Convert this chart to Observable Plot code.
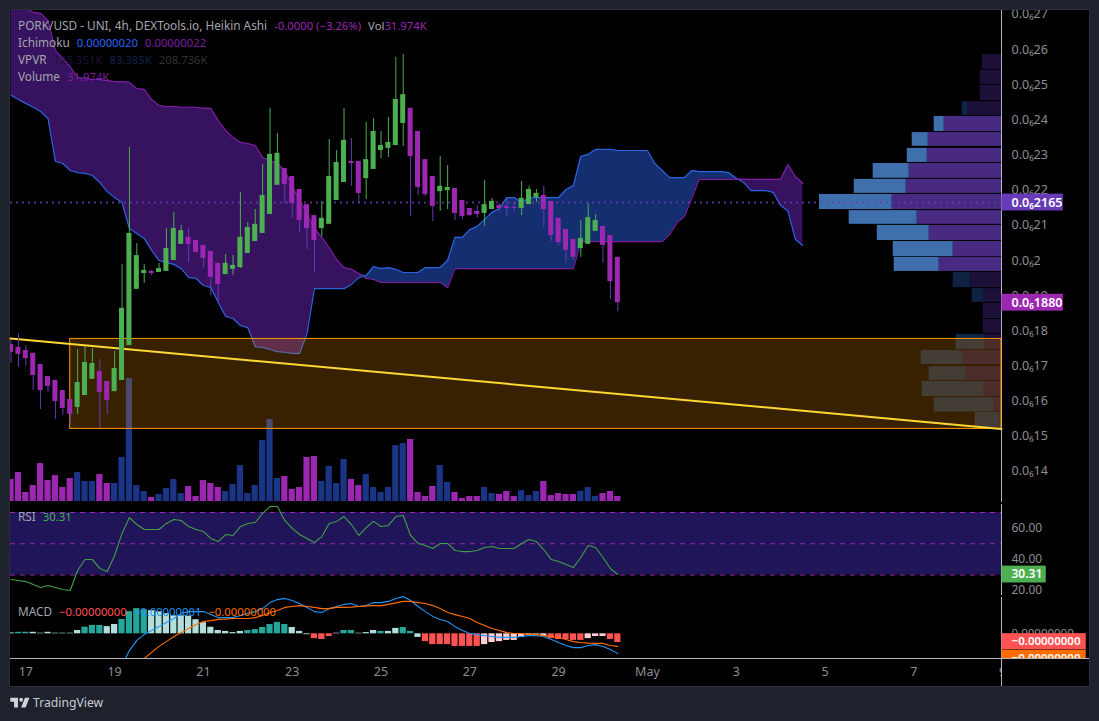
<!DOCTYPE html>
<html><head><meta charset="utf-8">
<script src="https://cdn.jsdelivr.net/npm/d3@7"></script>
<script src="https://cdn.jsdelivr.net/npm/@observablehq/plot@0.6"></script>
<style>
html,body{margin:0;padding:0;background:#1e222d;overflow:hidden}
#page{position:relative;width:1099px;height:721px;background:#1e222d;font-family:"Noto Sans",sans-serif;overflow:hidden}
#frame{position:absolute;left:9px;top:9px;width:1079px;height:676px;background:#000;border:1px solid #2a2e39}
#page svg.lay{position:absolute}
.leg{position:absolute;left:18px;font-size:11.8px;line-height:16px;color:#a3a6ae;white-space:nowrap}
.leg span{font-size:11.3px;margin-left:7px}
.leg span.tight{margin-left:0}
.vl{position:absolute;background:#b2b5be}
#brand{position:absolute;left:33px;top:693px;font-size:12.2px;line-height:20px;color:#c9cbd1}
</style></head><body><div id="page"><div id="frame"></div></div>
<script>
// bar number 0 = 17 April 00:00, 6 bars a day (4h); prices in units of 1e-7
const openPx=[17.61,17.53,17.44,17.36,17.04,16.70,16.59,16.30,16.05,15.82,16.16,16.62,16.84,16.56,16.27,16.59,17.58,19.18,19.63,19.69,19.66,19.69,20.00,20.46,20.66,20.57,20.43,20.26,19.92,19.60,19.75,19.80,20.20,20.54,20.77,21.31,22.14,22.62,22.39,22.02,21.59,21.28,20.91,21.03,21.71,22.22,22.82,22.82,22.33,22.59,23.13,23.19,23.27,23.90,24.33,23.67,22.87,22.39,21.96,21.99,22.05,21.71,21.48,21.40,21.34,21.45,21.57,21.54,21.51,21.48,21.59,21.79,21.85,21.68,21.20,20.88,20.60,20.34,20.46,20.83,20.97,20.71,20.09];
const closePx=[17.39,17.33,17.21,16.73,16.30,16.42,15.99,15.79,15.62,16.53,17.10,17.07,16.25,16.02,16.93,18.64,20.77,20.14,19.72,19.63,19.77,20.34,20.91,20.85,20.46,20.23,20.06,19.52,19.32,19.92,19.86,20.66,20.94,21.03,21.85,23.02,23.05,22.16,21.62,21.14,20.91,20.57,21.20,22.39,22.79,23.42,22.76,21.91,22.87,23.67,23.27,23.36,24.58,24.72,22.96,22.08,21.88,21.54,22.11,22.08,21.34,21.25,21.28,21.31,21.59,21.68,21.48,21.48,21.48,21.77,22.02,21.91,21.45,20.71,20.51,20.29,20.09,20.63,21.22,21.14,20.43,19.40,18.80];
const highPx=[17.73,17.92,17.58,17.36,17.04,16.70,16.59,16.30,16.05,17.47,17.55,17.50,17.18,16.56,17.41,19.89,23.22,20.48,19.89,19.72,19.92,20.91,21.37,21.00,20.91,20.57,20.43,20.26,19.92,20.17,20.14,21.94,21.08,21.45,22.73,24.33,23.61,22.62,22.39,22.02,21.59,21.28,21.68,23.44,23.13,24.33,23.47,22.82,23.93,24.04,23.67,24.07,25.78,25.86,24.33,23.67,22.87,22.39,22.96,22.70,22.05,21.71,21.48,21.57,22.28,21.77,21.62,21.77,21.68,22.25,22.11,22.02,22.11,21.68,21.20,20.88,20.60,21.14,21.62,21.31,20.97,20.71,20.09];
const lowPx=[17.07,16.96,16.99,16.30,15.76,16.25,15.48,15.59,15.34,15.62,16.16,16.62,15.22,15.62,16.27,16.59,17.58,19.18,19.35,19.58,19.66,19.69,20.00,20.46,19.94,20.20,19.77,19.00,18.81,19.60,19.58,19.77,20.20,20.54,20.77,21.31,22.14,21.60,21.22,20.80,20.31,19.66,20.68,21.03,21.71,22.22,22.11,21.60,21.74,22.59,22.90,22.93,23.27,23.24,21.25,21.85,21.82,21.11,21.40,21.45,21.14,21.17,21.25,21.20,20.97,21.45,21.37,21.22,21.40,21.28,21.59,21.65,20.94,20.54,20.40,19.92,20.00,20.09,20.46,20.83,19.92,18.89,18.55];
// Ichimoku leading spans, bars -2 to 105
const spanA=[24.70,24.58,24.47,24.36,24.24,24.04,22.82,22.76,22.56,22.50,22.48,22.42,22.22,21.96,21.79,21.65,20.91,20.77,20.63,20.29,20.00,19.94,19.89,19.77,19.52,19.49,19.29,19.23,18.81,18.41,18.35,18.15,18.09,17.55,17.53,17.47,17.41,17.39,17.36,17.36,17.92,19.20,19.20,19.20,19.20,19.20,19.32,19.52,19.57,19.83,19.77,19.80,19.75,19.66,19.66,19.66,19.80,19.80,19.80,20.00,20.66,20.66,20.88,20.97,21.17,21.37,21.48,21.79,21.79,21.65,21.79,21.79,21.79,21.79,21.79,22.02,22.13,22.96,23.02,23.16,23.16,23.16,23.13,23.13,23.13,23.13,23.13,22.76,22.56,22.36,22.36,22.36,22.56,22.53,22.53,22.53,22.53,22.50,22.34,22.22,21.99,21.99,21.99,21.94,21.57,21.40,20.60,20.43];
const spanB=[27.54,27.40,27.17,27.06,27.03,26.83,25.98,25.75,25.52,25.21,25.18,25.15,25.15,25.12,25.09,25.09,25.07,24.89,24.87,24.58,24.41,24.38,24.38,24.36,24.36,24.36,24.33,24.33,23.98,23.70,23.50,23.36,23.33,23.27,22.93,22.85,22.76,22.56,22.11,21.71,21.34,20.91,20.66,20.37,20.03,19.80,19.75,19.63,19.49,19.46,19.38,19.38,19.38,19.38,19.38,19.38,19.38,19.38,19.38,19.23,19.77,19.77,19.77,19.77,19.77,19.77,19.77,19.77,19.77,19.77,19.77,19.77,19.77,19.77,19.77,19.77,19.77,20.54,20.54,20.54,20.54,20.54,20.54,20.54,20.54,20.54,20.54,20.54,20.54,20.74,21.08,21.25,21.77,22.31,22.31,22.31,22.31,22.31,22.31,22.31,22.31,22.31,22.31,22.31,22.31,22.73,22.39,22.19];
// volume in thousands; p = purple, b = blue
const volumeK=[141,186,58,102,243,134,166,90,147,186,128,128,173,115,115,282,787,102,64,26,45,83,141,51,96,32,134,115,90,64,109,230,51,102,390,525,147,160,77,90,282,288,128,224,115,269,141,102,173,90,58,90,358,371,397,58,32,96,230,122,58,19,32,32,90,51,45,64,32,70,38,64,128,38,51,45,45,64,90,32,51,64,31.974];
const volumeKind="pppppppppbbbppbbbbbpbbbbpppppbbbbbbbbpppppbbbbppbbbbbbppppbbppppbbpppbbbpppppbbbppp";
// visible-range volume profile, in thousands
const vpTop=[25.86,25.41,24.98,24.52,24.10,23.64,23.19,22.76,22.31,21.88,21.42,21.00,20.54,20.09,19.66,19.20,18.78,18.32,17.90,17.44,16.98,16.56,16.10,15.68];
const vpBottom=[25.43,25.01,24.55,24.13,23.67,23.25,22.79,22.34,21.91,21.45,21.03,20.57,20.11,19.69,19.23,18.81,18.35,17.92,17.47,17.04,16.59,16.13,15.69,15.25];
const vpUp=[22.1,24.4,24.4,38.2,65.7,84.0,85.2,105.9,109.3,125.4,96.7,82.9,55.4,71.5,35.9,19.8,21.0,21.0,18.7,43.9,40.5,19.8,8.4,1.5];
const vpDown=[0,0,0,6.9,11.5,18.4,22.9,41.3,59.6,83.4,78.0,59.6,68.8,51.6,19.5,13.8,0,0,33.3,48.2,42.4,71.1,68.8,28.7];
const vpValueArea=[0,0,0,0,1,1,1,1,1,1,1,1,1,1,0,0,0,0,0,0,0,0,0,0];
const rsiValues=[27.1,26.5,25.8,23.9,22.0,23.3,22.0,20.7,20.1,32.9,39.9,39.9,34.2,32.3,42.5,56.6,66.8,62.3,59.1,59.1,59.1,63.0,65.5,64.9,61.0,59.1,57.8,53.4,51.4,55.9,55.3,61.0,63.0,63.6,69.4,73.8,73.8,64.9,59.8,55.9,53.4,50.8,54.6,63.0,64.3,67.4,62.3,55.3,60.4,64.3,61.0,61.7,67.4,68.1,55.3,50.2,48.9,47.0,50.2,50.2,45.7,45.0,45.0,45.7,47.6,48.2,47.0,47.0,47.0,50.2,52.7,51.4,46.3,39.9,38.6,36.7,34.8,41.2,48.9,47.6,41.2,34.2,30.31];
// MACD in units of 1e-9
const histValues=[.3,.5,.5,.5,.2,.5,.2,.2,.2,1.1,2.2,2.8,2.8,2.4,3.1,4.8,7.4,8.4,8.0,7.7,7.3,6.7,6.0,6.0,5.9,4.7,3.7,2.2,1.1,.8,.4,.8,1.1,1.4,2.1,3.1,3.8,3.1,2.1,.8,-.3,-1.6,-1.9,-.9,.2,1.1,1.1,.2,.4,1.1,.8,.8,1.8,2.1,.8,-1.2,-2.6,-3.6,-3.6,-3.6,-4.2,-4.2,-4.2,-4.2,-3.6,-2.9,-2.6,-2.2,-2.2,-1.2,-.6,-.2,-.9,-1.6,-1.9,-1.9,-2.2,-2.2,-1.6,-.9,-.9,-1.9,-2.9];
const histKind="lttllllllltttllttttlllllllllllllttttttlllrrrkttllltllttlrrrrrrrrkkkkkkkkkrrrrrkkkrrr";
const macdLine=[-10.6,-5.6,-2.2,-.2,1.1,2.4,3.8,5.1,6.8,7.4,7.4,7.4,6.4,5.4,5.4,5.4,6.1,6.8,7.4,8.4,10.4,11.4,11.8,11.1,10.1,8.8,7.4,7.1,8.4,9.1,9.8,10.1,9.1,9.4,10.4,10.4,10.8,11.8,12.4,11.1,9.1,7.4,5.8,4.8,4.1,2.4,1.1,.1,-.2,-.6,-.9,-1.2,-1.2,-1.2,-.9,-.6,-.6,-.9,-1.9,-2.9,-3.9,-4.6,-4.6,-3.9,-3.6,-4.2,-5.2,-6.6];
const signalLine=[-8.2,-6.2,-4.2,-2.6,-.9,.4,1.8,3.1,4.1,4.4,4.8,4.9,5.1,5.1,5.1,5.4,6.1,7.1,7.8,8.8,9.1,9.4,9.1,8.8,8.4,8.4,8.8,8.8,8.9,9.1,9.3,9.4,9.4,9.8,10.3,10.8,10.8,10.4,10.1,9.4,8.4,7.1,6.4,5.8,5.1,3.8,2.8,1.8,1.1,.4,.1,.1,-.2,-.2,-.6,-.9,-1.2,-1.9,-2.6,-2.9,-3.1,-3.2,-3.2,-3.9,-4.2];
const priceTicks=[14,15,16,17,18,19,20,21,22,23,24,25,26,27];
const priceTickLabels=["0.0₆14","0.0₆15","0.0₆16","0.0₆17","0.0₆18","0.0₆19","0.0₆2","0.0₆21","0.0₆22","0.0₆23","0.0₆24","0.0₆25","0.0₆26","0.0₆27"];
const timeBars=[0,12,24,36,48,60,72,84,96,108,120,132];
const timeLabels=["17","19","21","23","25","27","29","May","3","5","7","9"];
const rsiLevels=[70,50,30];
const rsiTicks=[60,40,20];
const zone={top:17.77,bottom:15.21,from:6};
const trendBars=[-2.07,131.85], trendPrices=[17.78,15.21];

const FIRST=-2;
const xDomain=[-2.07,131.85], labelX1=131.9, labelX2=140.2, textX=133.2;
const font='"Noto Sans",sans-serif', axisColor="#8e8e8e";
const C={green:"#4caf50",purple:"#9c27b0",wick:"#673ab7",cloudUp:"#142e70",cloudDown:"#36125f",a:"#2a64e0",b:"#7b1fa2",
 volP:"#9c27b0",volB:"#1a3585",vpP:"#482a82",vpB:"#3f6fad",vpPd:"#1c1038",vpBd:"#0f2445"};
const page=document.getElementById("page");
function add(svg,top,left=0){svg.classList.add("lay");svg.style.top=top+"px";svg.style.left=left+"px";page.appendChild(svg);return svg;}
const base={style:{background:"transparent",fontFamily:font},color:{type:"identity"}};

// volume layer
const volRows=volumeK.map((v,k)=>({i:k+FIRST,v,kind:volumeKind[k]}));
add(Plot.plot({...base,width:1001,height:491,marginLeft:10,marginRight:0,marginTop:0,marginBottom:0,
 x:{domain:xDomain,axis:null},y:{domain:[0,3142],axis:null},
 marks:[Plot.rect(volRows,{x1:d=>d.i-.42,x2:d=>d.i+.42,y1:0,y2:"v",fill:d=>d.kind==="p"?C.volP:C.volB,clip:true})]}),10);

// volume profile layer
const vpRows=vpUp.map((u,k)=>({u,d:vpDown[k],t:vpTop[k],b:vpBottom[k],on:vpValueArea[k]}));
add(Plot.plot({...base,width:1001,height:492,marginLeft:10,marginRight:0,marginTop:0,marginBottom:0,
 x:{domain:[1136.7,0],axis:null},y:{domain:[13.116,27.113],axis:null},
 marks:[
  Plot.rect(vpRows,{x1:0,x2:"u",y1:"b",y2:"t",fill:d=>d.on?C.vpP:C.vpPd}),
  Plot.rect(vpRows,{x1:"u",x2:d=>d.u+d.d,y1:"b",y2:"t",fill:d=>d.on?C.vpB:C.vpBd})
 ]}),10);

// vertical price-scale line, with its pane notches
const vl=document.createElement("div");vl.className="vl";vl.style.cssText="left:1001px;top:10px;width:1px;height:676px";page.appendChild(vl);
[502,595].forEach(t=>{const n=document.createElement("div");n.className="vl";n.style.cssText=`left:1001px;top:${t}px;width:1px;height:2px;background:#000`;page.appendChild(n);});

// price layer
const bars=openPx.map((o,k)=>({i:k+FIRST,o,c:closePx[k],h:highPx[k],l:lowPx[k]}));
const cloud=spanA.map((a,k)=>({i:k+FIRST,a,b:spanB[k],top:Math.max(a,spanB[k])}));
const tickRows=priceTicks.map((p,k)=>({p,t:priceTickLabels[k]}));
const priceLabels=[{p:21.65,t:"0.0₆2165",f:"#673ab7"},{p:18.80,t:"0.0₆1880",f:"#9c27b0"}];
add(Plot.plot({...base,width:1099,height:492,marginLeft:10,marginRight:98,marginTop:0,marginBottom:0,
 x:{domain:xDomain,axis:null},y:{domain:[13.116,27.113],axis:null},
 marks:[
  Plot.text(tickRows,{x:textX,y:"p",text:"t",textAnchor:"start",fill:axisColor,fontSize:12.5}),
  Plot.areaY(cloud,{x:"i",y1:"a",y2:"top",fill:C.cloudDown,clip:true}),
  Plot.areaY(cloud,{x:"i",y1:"b",y2:"top",fill:C.cloudUp,clip:true}),
  Plot.line(cloud,{x:"i",y:"a",stroke:C.a,strokeWidth:1.2,clip:true}),
  Plot.line(cloud,{x:"i",y:"b",stroke:C.b,strokeWidth:1.2,clip:true}),
  Plot.rect([zone],{x1:"from",x2:xDomain[1],y1:"bottom",y2:"top",fill:"#ff9800",fillOpacity:.22,stroke:"#ff9800",strokeWidth:1}),
  Plot.ruleY([21.65],{stroke:"#673ab7",strokeOpacity:.8,strokeWidth:2,strokeDasharray:"2,4"}),
  Plot.line(trendBars.map((i,k)=>({i,p:trendPrices[k]})),{x:"i",y:"p",stroke:"#fdd835",strokeWidth:2}),
  Plot.ruleX(bars,{x:"i",y1:"l",y2:"h",stroke:d=>d.c>=d.o?C.green:C.wick,strokeWidth:1,clip:true}),
  Plot.rect(bars,{x1:d=>d.i-.34,x2:d=>d.i+.34,y1:"o",y2:"c",fill:d=>d.c>=d.o?C.green:C.purple,clip:true}),
  Plot.rect(priceLabels,{x1:labelX1,x2:labelX2,y1:d=>d.p-.24,y2:d=>d.p+.24,fill:"f"}),
  Plot.text(priceLabels,{x:textX,y:"p",text:"t",textAnchor:"start",fill:"#fff",fontSize:12.5,fontWeight:600})
 ]}),10);

// RSI
const rsiRows=rsiValues.map((v,k)=>({i:k+FIRST,v}));
add(Plot.plot({...base,width:1099,height:93,marginLeft:10,marginRight:98,marginTop:0,marginBottom:0,
 x:{domain:xDomain,axis:null},y:{domain:[16.9,76.4],axis:null},
 marks:[
  Plot.rect([{}],{x1:xDomain[0],x2:xDomain[1],y1:rsiLevels[2],y2:rsiLevels[0],fill:"#201558"}),
  Plot.ruleY(rsiLevels,{stroke:"#9c27b0",strokeWidth:1,strokeDasharray:"5,5"}),
  Plot.line(rsiRows,{x:"i",y:"v",stroke:"#43a047",strokeWidth:1.1}),
  Plot.text(rsiTicks,{x:textX,y:d=>d,text:d=>d.toFixed(2),textAnchor:"start",fill:axisColor,fontSize:12}),
  Plot.rect([30.31],{x1:labelX1,x2:137.9,y1:d=>d-5.4,y2:d=>d+5.4,fill:"#4caf50"}),
  Plot.text([30.31],{x:textX,y:d=>d,text:d=>d.toFixed(2),textAnchor:"start",fill:"#fff",fontSize:12,fontWeight:600})
 ]}),502);

// MACD
const histRows=histValues.map((v,k)=>({i:k+FIRST,v,kind:histKind[k]}));
const histColor={t:"#26a69a",l:"#b2dfdb",r:"#ff5252",k:"#ffcdd2"};
const macdRows=macdLine.map((v,k)=>({i:80-(macdLine.length-1)+k,v}));
const sigRows=signalLine.map((v,k)=>({i:80-(signalLine.length-1)+k,v}));
const macdLabels=[{v:-2.65,f:"#ff5252"},{v:-8.2,f:"#ff6d00"}];
add(Plot.plot({...base,width:1099,height:63,marginLeft:10,marginRight:98,marginTop:0,marginBottom:0,
 x:{domain:xDomain,axis:null},y:{domain:[-8.23,12.77],axis:null},
 marks:[
  Plot.rect(histRows,{x1:d=>d.i-.42,x2:d=>d.i+.42,y1:0,y2:"v",fill:d=>histColor[d.kind],clip:true}),
  Plot.line(macdRows,{x:"i",y:"v",stroke:"#2196f3",strokeWidth:1.1,clip:true}),
  Plot.line(sigRows,{x:"i",y:"v",stroke:"#ff6d00",strokeWidth:1.1,clip:true}),
  Plot.text(["0.00000000"],{x:textX,y:.3,text:d=>d,textAnchor:"start",fill:axisColor,fontSize:11.5}),
  Plot.rect(macdLabels,{x1:labelX1,x2:143.3,y1:d=>d.v-2.7,y2:d=>d.v+2.7,fill:"f"}),
  Plot.text(macdLabels,{x:textX,y:"v",text:()=>"−0.00000000",textAnchor:"start",fill:"#fff",fontSize:11.5,fontWeight:600})
 ]}),595);

// time axis
add(Plot.plot({...base,width:1001,height:28,marginLeft:10,marginRight:0,marginTop:0,marginBottom:0,
 x:{domain:xDomain,axis:null},y:{domain:[0,1],axis:null},
 marks:[Plot.text(timeBars,{x:d=>d,y:.5,dy:-1,text:(d,k)=>timeLabels[k],fill:axisColor,fontSize:12.5})]}),658);
const hl=document.createElement("div");hl.className="vl";hl.style.cssText="left:10px;top:658px;width:1079px;height:1px";page.appendChild(hl);

// legends
function legend(top,html){const d=document.createElement("div");d.className="leg";d.style.top=(top-8)+"px";d.innerHTML=html;page.appendChild(d);}
const sp=(c,t,x="")=>`<span class="${x}" style="color:${c}">${t}</span>`;
legend(25,`PORK/USD - UNI, 4h, DEXTools.io, Heikin Ashi${sp("#9c27b0","-0.0000 (−3.26%)")}<span style="margin-left:7px;color:#a3a6ae">Vol</span>${sp("#9c27b0","31.974K","tight")}`);
legend(42,`Ichimoku${sp("#2962ff","0.00000020")}${sp("#7b1fa2","0.00000022")}`);
legend(59,`VPVR${sp("#1e1238","125.351K")}${sp("#0f2445","83.385K")}${sp("#333","208.736K")}`);
legend(76,`Volume${sp("#7b1fa2","31.974K")}`);
legend(516,`RSI${sp("#4caf50","30.31")}`);
legend(611,`MACD${sp("#ff5252","−0.00000000")}${sp("#2196f3","−0.00000001")}${sp("#ff6d00","−0.00000000")}`);

// footer brand
const brand=document.createElement("div");brand.id="brand";brand.textContent="TradingView";page.appendChild(brand);
const logo=document.createElementNS("http://www.w3.org/2000/svg","svg");
logo.setAttribute("viewBox","0 0 36 28");logo.setAttribute("width","23");logo.setAttribute("height","17.9");logo.style.cssText="position:absolute;left:8.7px;top:694px";
logo.innerHTML='<path fill="#d1d4dc" d="M14 6H2v6h6v9h6V6zm12 15h-7l6-15h7l-6 15zm-7-9a3 3 0 1 0 0-6 3 3 0 0 0 0 6z"/>';
page.appendChild(logo);
</script></body></html>
